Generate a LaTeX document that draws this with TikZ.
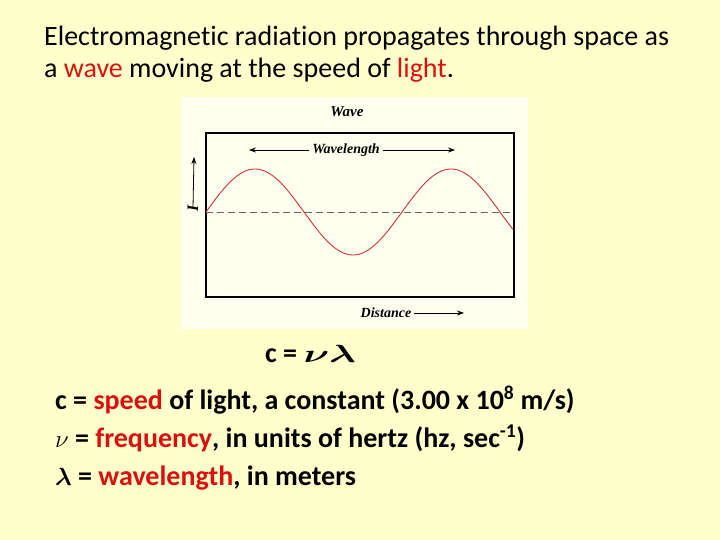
\documentclass[tikz,border=0pt]{standalone}
\usepackage{amsmath,amssymb}
\usepackage{fontspec}
\setmainfont[Ligatures=NoCommon]{Carlito}
\newfontfamily\figfont{Liberation Serif}
\usepackage{xcolor}
\usetikzlibrary{arrows.meta, positioning, calc}
\definecolor{pagebg}{HTML}{FFFFCC}
\definecolor{figbg}{HTML}{FFFFF0}
\definecolor{hilite}{HTML}{D81010}
\definecolor{wavered}{HTML}{CC3333}

\begin{document}
\begin{tikzpicture}[
  x=1pt, y=-1pt,
  title/.style={anchor=base west, inner sep=0pt, font=\fontsize{28}{32}\selectfont},
  defn/.style={anchor=base west, inner sep=0pt, font=\fontsize{28}{32}\selectfont\bfseries},
  figlab/.style={inner sep=3pt, font=\fontsize{14}{16}\figfont\bfseries\itshape},
  wave/.style={wavered, line width=0.9pt},
  axisline/.style={gray!80!black, dash pattern=on 7pt off 4pt, line width=0.7pt},
  arr/.style={-{Stealth[length=7pt, width=5pt]}, line width=0.8pt}
]
% background and figure panel
\fill[pagebg] (0,0) rectangle (720,540);
\useasboundingbox (0,0) rectangle (720,540);
\fill[figbg] (181,97) rectangle (528,329);

% heading
\node[title] (head1) at (44,46) {Electromagnetic radiation propagates through space as};
\node[title] (head2) at (44,78) {a \textcolor{hilite}{wave} moving at the speed of \textcolor{hilite}{light}.};

% wave figure
\node[figlab, font=\fontsize{15}{17}\figfont\bfseries\itshape] (wtitle) at (347,112) {Wave};
\draw[line width=1.1pt] (206,133) rectangle (514,297);
\coordinate (axl) at (206,212);
\coordinate (axr) at (514,212);
\draw[axisline] (axl) -- (axr);
\draw[wave] plot[domain=0:307, samples=150] ({206+\x}, {212-43*sin(\x/196*360)});

\node[figlab] (wlen) at (346,150) {Wavelength};
\coordinate (wl) at (249,150);
\coordinate (wr) at (455,150);
\draw[arr] (wlen.west) -- (wl);
\draw[arr] (wlen.east) -- (wr);

\node[figlab] (dist) at (386,313) {Distance};
\coordinate (dend) at (464,313);
\draw[arr] (dist.east) -- (dend);

\node[figlab, inner sep=1pt, font=\fontsize{16}{18}\figfont\bfseries\itshape, rotate=90] (ilab) at (193,208) {I};
\coordinate (itop) at (194,157);
\draw[arr] ([yshift=-4pt]ilab.east) -- (itop);

% equation
\node[anchor=base west, inner sep=0pt, font=\fontsize{28}{32}\selectfont\bfseries] (eqn) at (265,362)
  {c = \scalebox{1.6}[1]{\fontsize{32}{36}\selectfont$\boldsymbol{\nu\lambda}$}};

% definitions
\node[defn] (defc) at (55,409) {c = \textcolor{hilite}{speed} of light, a constant (3.00 x 10\textsuperscript{8} m/s)};
\node[defn] (defnu) at (55,447) {$\nu$ = \textcolor{hilite}{frequency}, in units of hertz (hz, sec\textsuperscript{-1})};
\node[defn] (deflam) at (55,485) {$\boldsymbol{\lambda}$ = \textcolor{hilite}{wavelength}, in meters};
\end{tikzpicture}
\end{document}
